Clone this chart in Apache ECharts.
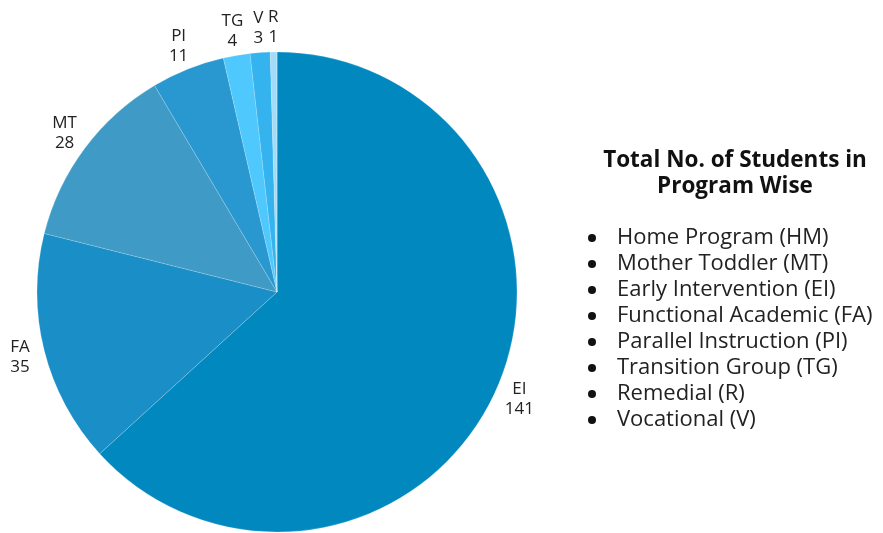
<!DOCTYPE html>
<html>
<head>
<meta charset="utf-8">
<title>Total No. of Students in Program Wise</title>
<script src="https://cdn.jsdelivr.net/npm/echarts@6/dist/echarts.min.js"></script>
<style>
html,body{margin:0;padding:0;background:#fff;}
#main{width:883px;height:533px;}
</style>
</head>
<body>
<div id="main"></div>
<script>
// 饼图数据(按数量倒序)
var programNames = ['Early Intervention (EI)','Functional Academic (FA)','Mother Toddler (MT)','Parallel Instruction (PI)','Transition Group (TG)','Vocational (V)','Remedial (R)','Home Program (HM)'];
var programCodes = ['EI','FA','MT','PI','TG','V','R','HM'];
var studentCounts = [141,35,28,11,4,3,1,0];
var sliceColors = ['#0088bf','#1a8fc7','#3f9bc5','#2998d0','#4fc8fd','#35b3ef','#a2dcf8','#7fd0f5'];
// 图例顺序
var legendOrder = ['Home Program (HM)','Mother Toddler (MT)','Early Intervention (EI)','Functional Academic (FA)','Parallel Instruction (PI)','Transition Group (TG)','Remedial (R)','Vocational (V)'];

var FONT = '"Open Sans", "Noto Sans", sans-serif';
var CX = 277, CY = 292, RADIUS = 240, LABEL_R = 265;

// 每块扇区的中间角(从12点钟顺时针)
function midAngle(idx) {
	var total = 0, before = 0;
	for (var i=0;i<studentCounts.length;++i) {
		total += studentCounts[i];
		if (i<idx) before += studentCounts[i];
	}
	return (before + studentCounts[idx]/2) / total * Math.PI * 2;
}

var pieData = [];
for (var i=0;i<programNames.length;++i) {
	var item = {
		name: programNames[i],
		value: studentCounts[i],
		itemStyle: {color: sliceColors[i]}
	};
	if (studentCounts[i]==0) item.label = {show:false};
	pieData.push(item);
}

var chart = echarts.init(document.getElementById('main'));
var option = {
	animation: false,
	title: {
		text: 'Total No. of Students in\nProgram Wise',
		left: 730, top: 143,
		textAlign: 'center',
		textStyle: {fontFamily: FONT, fontSize: 22.5, fontWeight: 'bold', color: '#111', lineHeight: 26}
	},
	legend: {
		orient: 'vertical',
		left: 583, top: 220,
		icon: 'circle',
		itemWidth: 8, itemHeight: 8,
		itemGap: 0,
		itemStyle: {color: '#111', borderWidth: 0},
		textStyle: {fontFamily: FONT, fontSize: 22, color: '#222', lineHeight: 26, padding: [0,0,0,16]},
		selectedMode: false,
		data: legendOrder
	},
	series: [{
		type: 'pie',
		center: [CX, CY],
		radius: [0, RADIUS],
		startAngle: 90,
		clockwise: true,
		avoidLabelOverlap: false,
		itemStyle: {borderColor: 'rgba(255,255,255,0.35)', borderWidth: 0.5},
		label: {
			position: 'outside',
			fontFamily: FONT, fontSize: 17, color: '#222', lineHeight: 20,
			formatter: function(p) {
				return programCodes[p.dataIndex] + '\n' + p.value;
			}
		},
		labelLine: {show: false},
		labelLayout: function(p) {
			var a = midAngle(p.dataIndex);
			return {
				x: CX + Math.sin(a)*LABEL_R,
				y: CY - Math.cos(a)*LABEL_R,
				align: 'center',
				verticalAlign: 'middle'
			};
		},
		emphasis: {disabled: true},
		data: pieData
	}]
};
chart.setOption(option);
</script>
</body>
</html>
